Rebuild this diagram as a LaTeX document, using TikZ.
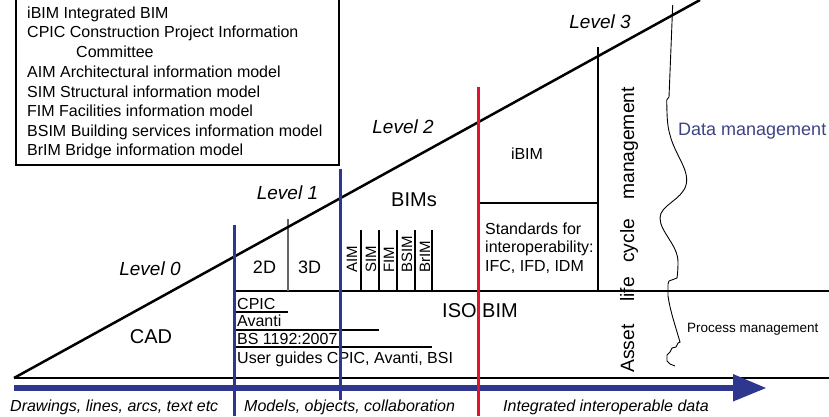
\documentclass[tikz,border=0pt]{standalone}
\usepackage{fontspec}
\setmainfont{Liberation Sans}
\definecolor{navy}{HTML}{2E3790}
\definecolor{bimred}{HTML}{E2132E}
\definecolor{datablue}{HTML}{3D4383}
\tikzset{
  lbl/.style={inner sep=0pt, font=\fontsize{16}{19}\selectfont},
  leg/.style={inner sep=0pt, anchor=base west, font=\fontsize{16}{19}\selectfont},
  big/.style={inner sep=0pt, font=\fontsize{20}{24}\selectfont},
  lvl/.style={inner sep=0pt, font=\fontsize{19}{23}\selectfont\itshape},
  foot/.style={inner sep=0pt, anchor=base west, font=\fontsize{16}{19}\selectfont\itshape},
  vertlbl/.style={inner sep=0pt, rotate=90, anchor=base west, font=\fontsize{15}{18}\selectfont},
  assetlbl/.style={inner sep=0pt, rotate=90, anchor=base west, font=\fontsize{19.3}{23}\selectfont},
  thinline/.style={line width=1.2pt},
  grayline/.style={line width=1.2pt, draw=black!60},
  mainline/.style={line width=2.5pt},
  bluebar/.style={line width=3pt, draw=navy},
  redbar/.style={line width=3pt, draw=bimred},
}
\begin{document}
\begin{tikzpicture}[x=1pt,y=-1pt]
\useasboundingbox (0,0) rectangle (829,416);

% legend box
\draw[thinline] (16,-10) -- (16,165) -- (339,165) -- (339,-10);
\node[leg] (l1) at (27,18) {iBIM Integrated BIM};
\node[leg] (l2) at (27,37.5) {CPIC Construction Project Information};
\node[leg] (l3) at (76,57) {Committee};
\node[leg] (l4) at (27,77) {AIM Architectural information model};
\node[leg] (l5) at (27,97) {SIM Structural information model};
\node[leg] (l6) at (27,116.5) {FIM Facilities information model};
\node[leg] (l7) at (27,136) {BSIM Building services information model};
\node[leg] (l8) at (27,155.5) {BrIM Bridge information model};

% texts
\node[lvl] (lv0) at (150,269) {Level 0};
\node[lvl] (lv1) at (287.5,192.7) {Level 1};
\node[lvl] (lv2) at (403,127) {Level 2};
\node[lvl] (lv3) at (600,22) {Level 3};
\node[big] (cad) at (151,337) {CAD};
\node[big] (bims) at (414,200) {BIMs};
\node[big] (iso) at (480,311) {ISO BIM};
\node[lbl, font=\fontsize{18}{22}\selectfont] (d2) at (264.5,267) {2D};
\node[lbl, font=\fontsize{18}{22}\selectfont] (d3) at (309.5,267) {3D};
\node[vertlbl] (aim) at (357,273) {AIM};
\node[vertlbl] (sim) at (376,273) {SIM};
\node[vertlbl] (fim) at (394,273) {FIM};
\node[vertlbl] (bsim) at (412,273) {BSIM};
\node[vertlbl] (brim) at (430,273) {BrIM};
\node[lbl] (ibim) at (527,154) {iBIM};
\node[leg] (st1) at (485,234) {Standards for};
\node[leg] (st2) at (485,252.5) {interoperability:};
\node[leg] (st3) at (485,271) {IFC, IFD, IDM};
\node[leg] (cpic) at (237,309) {CPIC};
\node[leg] (avanti) at (237,326) {Avanti};
\node[leg] (bs) at (237,344) {BS 1192:2007};
\node[leg] (ug) at (237,363.5) {User guides CPIC, Avanti, BSI};
\node[assetlbl] (a1) at (634,373) {Asset};
\node[assetlbl] (a2) at (634,302) {life};
\node[assetlbl] (a3) at (634,263) {cycle};
\node[assetlbl] (a4) at (634,200) {management};
\node[inner sep=0pt, anchor=base west, text=datablue, font=\fontsize{18}{22}\selectfont] (dm) at (678,135) {Data management};
\node[inner sep=0pt, anchor=base west, font=\fontsize{13.5}{16}\selectfont] (pm) at (687,332) {Process management};
\node[foot] (f1) at (10,411.5) {Drawings, lines, arcs, text etc};
\node[foot] (f2) at (244,411.5) {Models, objects, collaboration};
\node[foot] (f3) at (503,411.5) {Integrated interoperable data};

% coordinates
\coordinate (o) at (14,378);
\coordinate (top) at (700,0);
\coordinate (re) at (829,378);

% thin grid lines
\draw[thinline] (234,291) -- (829,291);
\draw[grayline] (288,219) -- (288,291);
\foreach \xx in {361,379,397,415,432} \draw[thinline] (\xx,230) -- (\xx,291);
\draw[thinline] (234,312) -- (288,312);
\draw[thinline] (234,330) -- (379,330);
\draw[thinline] (234,347) -- (432,347);
\draw[thinline] (478,203) -- (598,203);
\draw[thinline] (598,47) -- (598,291);

% wavy line
\draw[line width=0.9pt] (672.7,5) -- (669,97) -- (666.7,100)
  .. controls (667,115) and (667,125) .. (670,135)
  .. controls (675,155) and (690,170) .. (686,185)
  .. controls (682,200) and (660,205) .. (660,218)
  .. controls (660,232) and (678,245) .. (678,262)
  .. controls (678,272) and (677,278) .. (677,278)
  -- (669,281) -- (668,284) -- (668,296)
  .. controls (670,310) and (675,325) .. (680,342)
  -- (678,343) -- (676,347) -- (672,348) -- (670,352) -- (667,355) -- (667,361) -- (670,364) -- (675,366);

% main lines
\draw[mainline] (o) -- (top);
\draw[line width=2pt] (o) -- (re);

% blue arrow
\fill[navy] (14,384.8) rectangle (736,391.2);
\fill[navy] (733,374) -- (766,388) -- (733,401.5) -- cycle;

% coloured verticals
\draw[bluebar] (234,225) -- (234,416);
\draw[bluebar] (340,169) -- (340,400);
\draw[redbar] (478,87) -- (478,416);
\end{tikzpicture}
\end{document}
